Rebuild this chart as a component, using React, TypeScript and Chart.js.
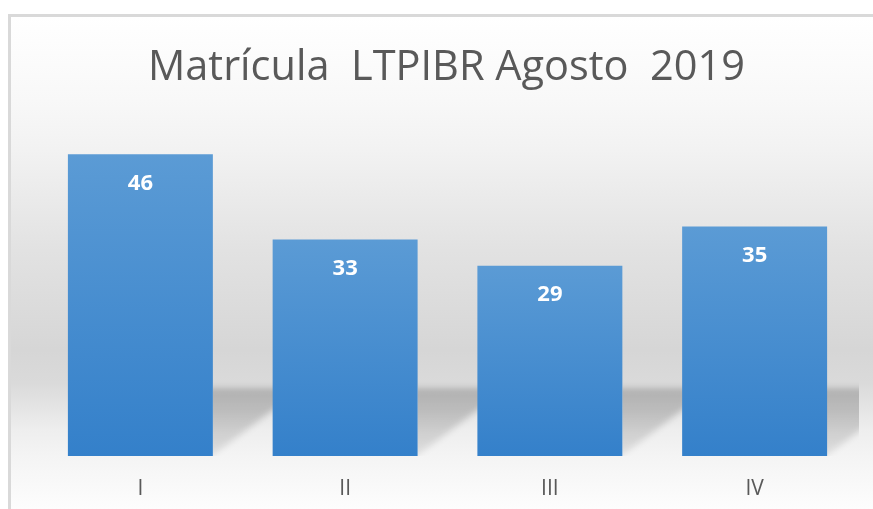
import React, { useEffect, useRef } from "react";
import { Chart, registerables } from "chart.js";

Chart.register(...registerables);

const categories: string[] = ["I", "II", "III", "IV"];
const values: number[] = [46, 33, 29, 35];
const chartTitle = "Matrícula  LTPIBR Agosto  2019";
const yMin = 0;
const yMax = 50;

const W = 873;
const H = 509;

const backgroundPlugin = {
  id: "bgFrame",
  beforeDraw(chart: any) {
    const ctx = chart.ctx;
    ctx.save();
    ctx.fillStyle = "#ffffff";
    ctx.fillRect(0, 0, W, H);
    const g = ctx.createLinearGradient(0, 17, 0, H);
    g.addColorStop(0, "#ffffff");
    g.addColorStop(0.169, "#f8f8f8");
    g.addColorStop(0.27, "#f2f2f2");
    g.addColorStop(0.474, "#e2e2e2");
    g.addColorStop(0.677, "#d6d6d6");
    g.addColorStop(0.744, "#dadada");
    g.addColorStop(0.839, "#eeeeee");
    g.addColorStop(0.892, "#f4f4f4");
    g.addColorStop(1, "#fdfdfd");
    ctx.fillStyle = g;
    ctx.fillRect(11, 17, W - 11, H - 17);
    ctx.fillStyle = "#d9d9d9";
    ctx.fillRect(8, 14, 3, H - 14);
    ctx.fillRect(8, 14, W - 8, 3);
    // title
    ctx.fillStyle = "#595959";
    ctx.font = '41.5px "Open Sans"';
    ctx.textAlign = "center";
    ctx.textBaseline = "alphabetic";
    ctx.fillText(chartTitle, 446.5, 80);
    ctx.restore();
  },
  beforeDatasetsDraw(chart: any) {
    const ctx = chart.ctx;
    const meta = chart.getDatasetMeta(0);
    const area = chart.chartArea;
    meta.data.forEach((el: any) => {
      const right = el.x + el.width / 2;
      const base = el.base;
      ctx.save();
      ctx.beginPath();
      ctx.rect(right, 370, Math.min(62, area.right + 2 - right), base - 370);
      ctx.clip();
      const sg = ctx.createLinearGradient(0, 386, 0, base);
      sg.addColorStop(0, "rgba(0,0,0,0.20)");
      sg.addColorStop(0.35, "rgba(0,0,0,0.18)");
      sg.addColorStop(1, "rgba(0,0,0,0.08)");
      ctx.filter = "blur(3px)";
      ctx.fillStyle = sg;
      ctx.beginPath();
      ctx.moveTo(right - 10, 388);
      ctx.lineTo(right + 75, 388);
      ctx.lineTo(right + 75, 398);
      ctx.lineTo(right + 60, 410);
      ctx.lineTo(right, 455);
      ctx.lineTo(right - 10, 462);
      ctx.closePath();
      ctx.fill();
      ctx.restore();
    });
  },
  afterDatasetsDraw(chart: any) {
    const ctx = chart.ctx;
    const meta = chart.getDatasetMeta(0);
    ctx.save();
    ctx.fillStyle = "#ffffff";
    ctx.font = 'bold 22px "Open Sans"';
    ctx.textAlign = "center";
    ctx.textBaseline = "middle";
    meta.data.forEach((el: any, i: number) => {
      ctx.fillText(String(values[i]), el.x, el.y + 29);
    });
    ctx.restore();
  },
};

export default function App() {
  const ref = useRef<HTMLCanvasElement | null>(null);
  useEffect(() => {
    if (!ref.current) return;
    const chart = new Chart(ref.current, {
      type: "bar",
      data: {
        labels: categories,
        datasets: [
          {
            data: values,
            backgroundColor: (c: any) => {
              const ch = c.chart;
              const sc = ch.scales && ch.scales.y;
              if (!sc || !ch.chartArea || c.dataIndex === undefined) return "#4a8fd0";
              const top = sc.getPixelForValue(values[c.dataIndex]);
              const bot = sc.getPixelForValue(0);
              const g = ch.ctx.createLinearGradient(0, top, 0, bot);
              g.addColorStop(0, "#5b9bd5");
              g.addColorStop(1, "#3480ca");
              return g;
            },
            borderWidth: 0,
            barPercentage: 0.708,
            categoryPercentage: 1,
          },
        ],
      },
      options: {
        responsive: false,
        animation: false,
        layout: { padding: { top: 128, left: 38, right: 16, bottom: 0 } },
        plugins: {
          legend: { display: false },
          title: { display: false },
          tooltip: { enabled: false },
        },
        scales: {
          x: {
            grid: { display: false, drawTicks: false },
            border: { display: false },
            ticks: {
              color: "#595959",
              font: { family: '"Open Sans"', size: 21 },
              padding: 20,
            },
            afterFit: (s: any) => {
              s.height = 53;
            },
          },
          y: {
            display: false,
            min: yMin,
            max: yMax,
          },
        },
      },
      plugins: [backgroundPlugin],
    });
    return () => chart.destroy();
  }, []);
  return (
    <div style={{ position: "fixed", left: 0, top: 0, width: W, height: H }}>
      <canvas ref={ref} width={W} height={H} style={{ display: "block" }} />
    </div>
  );
}
